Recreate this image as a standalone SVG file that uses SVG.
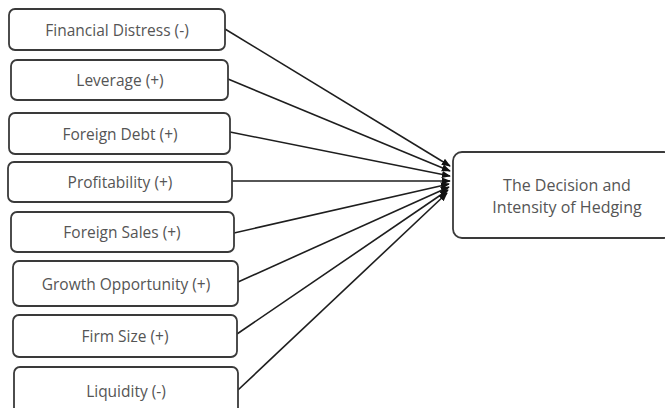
<svg xmlns="http://www.w3.org/2000/svg" width="665" height="408" viewBox="0 0 665 408">
<style>
.box{fill:#fff;stroke:#3a3a3a;stroke-width:1.8}
.lbl{font-family:"Open Sans","Noto Sans",sans-serif;font-size:15.5px;fill:#555;text-anchor:middle;dominant-baseline:central}
.big{font-size:16px}
.edge{stroke:#1e1e1e;stroke-width:1.6;fill:none;marker-end:url(#arr)}
</style>
<defs>
<marker id="arr" viewBox="0 0 10 10" refX="9" refY="5" markerWidth="9" markerHeight="9" orient="auto" markerUnits="userSpaceOnUse">
<path d="M0,1 L10,5 L0,9 Z" fill="#111"/>
</marker>
</defs>
<rect width="665" height="408" fill="#fff"/>
<g id="connectors">
<line class="edge" x1="225" y1="29" x2="450" y2="166"/>
<line class="edge" x1="228" y1="79" x2="450" y2="171"/>
<line class="edge" x1="230" y1="132" x2="450" y2="176"/>
<line class="edge" x1="232" y1="181" x2="450" y2="181"/>
<line class="edge" x1="234" y1="233" x2="449" y2="184"/>
<line class="edge" x1="238" y1="282" x2="449" y2="187"/>
<line class="edge" x1="237" y1="334" x2="448" y2="190"/>
<line class="edge" x1="238" y1="390" x2="447" y2="193"/>
</g>
<g id="n1"><rect class="box" x="9" y="9" width="216" height="41" rx="6"/><text class="lbl" x="117" y="30">Financial Distress (-)</text></g>
<g id="n2"><rect class="box" x="11" y="60" width="217" height="40" rx="6"/><text class="lbl" x="120" y="80">Leverage (+)</text></g>
<g id="n3"><rect class="box" x="9" y="113" width="221" height="41" rx="6"/><text class="lbl" x="120" y="134">Foreign Debt (+)</text></g>
<g id="n4"><rect class="box" x="8" y="162" width="224" height="40" rx="6"/><text class="lbl" x="120" y="182">Profitability (+)</text></g>
<g id="n5"><rect class="box" x="11" y="212" width="223" height="40" rx="6"/><text class="lbl" x="122" y="232">Foreign Sales (+)</text></g>
<g id="n6"><rect class="box" x="13" y="261" width="225" height="45" rx="6"/><text class="lbl" x="126" y="284">Growth Opportunity (+)</text></g>
<g id="n7"><rect class="box" x="13" y="315" width="224" height="42" rx="6"/><text class="lbl" x="125" y="336">Firm Size (+)</text></g>
<g id="n8"><rect class="box" x="14" y="367" width="224" height="48" rx="6"/><text class="lbl" x="126" y="391">Liquidity (-)</text></g>
<g id="target"><rect class="box" x="453" y="152" width="220" height="86" rx="9"/><text class="lbl big" x="567" y="185">The Decision and</text><text class="lbl big" x="567" y="207">Intensity of Hedging</text></g>
</svg>
